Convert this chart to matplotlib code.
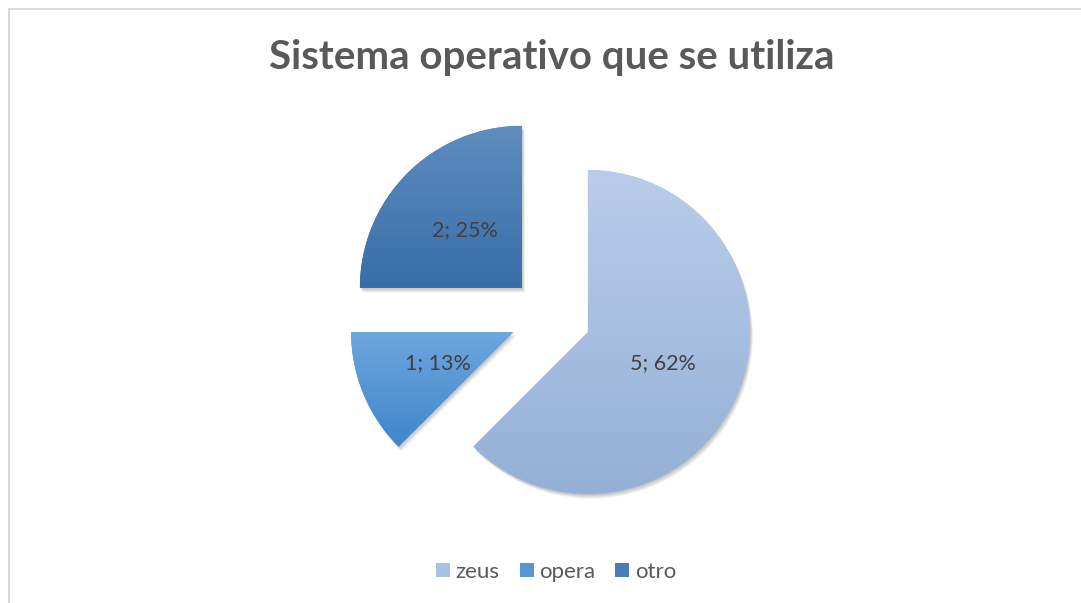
import numpy as np
import matplotlib
matplotlib.use("Agg")
import matplotlib.pyplot as plt
from matplotlib.patches import Wedge, Patch
from matplotlib.lines import Line2D

# ---- data ----
categories = ["zeus", "opera", "otro"]
values = [5, 1, 2]
pct_text = ["62%", "13%", "25%"]
title = "Sistema operativo que se utiliza"

top_colors = ["#b9cde9", "#6ea6de", "#5f8dbe"]
bottom_colors = ["#94b0d6", "#3f86cb", "#366ea8"]
legend_colors = ["#a9c2e3", "#5597d6", "#4a7db5"]

W, H = 1081, 603
fig = plt.figure(figsize=(W / 100, H / 100), dpi=100)
fig.patch.set_facecolor("white")
ax = fig.add_axes([0, 0, 1, 1])

R = 162
cx, cy = 550.5, H - 316.5
expl = 40.5
wedges, _ = ax.pie(values, radius=R, center=(cx, cy), explode=[expl] * len(values),
                   startangle=90, counterclock=False, colors=legend_colors,
                   wedgeprops=dict(linewidth=0))
ax.set_xlim(0, W)
ax.set_ylim(0, H)
ax.set_aspect("equal")
ax.axis("off")

# shadows
for w in wedges:
    for k in range(1, 7):
        sh = Wedge((w.center[0] + 0.5 * k, w.center[1] - 0.8 * k), w.r,
                   w.theta1, w.theta2, facecolor="black", alpha=0.045,
                   linewidth=0, zorder=0.5)
        ax.add_patch(sh)
    w.set_zorder(1)

# gradient fills
for w, ct, cb in zip(wedges, top_colors, bottom_colors):
    bb = w.get_path().get_extents(w.get_patch_transform())
    c0 = np.array(matplotlib.colors.to_rgb(ct))
    c1 = np.array(matplotlib.colors.to_rgb(cb))
    t = np.linspace(0, 1, 256)[:, None]
    grad = (c0[None, :] * (1 - t) + c1[None, :] * t)[:, None, :]
    im = ax.imshow(grad, extent=(bb.x0, bb.x1, bb.y0, bb.y1), origin="upper",
                   aspect="auto", zorder=2, interpolation="bilinear")
    im.set_clip_path(w)

ax.set_xlim(0, W)
ax.set_ylim(0, H)

# data labels
d = 0.5
for w, v, p in zip(wedges, values, pct_text):
    th = np.deg2rad((w.theta1 + w.theta2) / 2)
    x = w.center[0] + d * w.r * np.cos(th)
    y = w.center[1] + d * w.r * np.sin(th)
    ax.text(x, y, f"{v}; {p}", ha="center", va="center", fontsize=15.5,
            color="#404040", family="Lato", zorder=5)

# title
fig.text(551.5 / W, 1 - 57 / H, title, ha="center", va="center", fontsize=29,
         fontweight="bold", color="#595959", family="Lato")

# legend
handles = [Patch(facecolor=c, edgecolor="none", label=l) for c, l in zip(legend_colors, categories)]
fig.legend(handles=handles, loc="center", bbox_to_anchor=(556 / W, 1 - 572 / H), ncol=3,
           frameon=False, handlelength=0.63, handleheight=0.63, handletextpad=0.25,
           columnspacing=0.9, prop=dict(family="Lato", size=16), labelcolor="#595959")

# frame lines
fig.add_artist(Line2D([8.5 / W, 1], [1 - 8.5 / H, 1 - 8.5 / H], color="#d9d9d9", lw=1.3,
                      transform=fig.transFigure))
fig.add_artist(Line2D([8.5 / W, 8.5 / W], [0, 1 - 8.5 / H], color="#d9d9d9", lw=1.5,
                      transform=fig.transFigure))

fig.savefig("out.png", dpi=100, facecolor="white")
